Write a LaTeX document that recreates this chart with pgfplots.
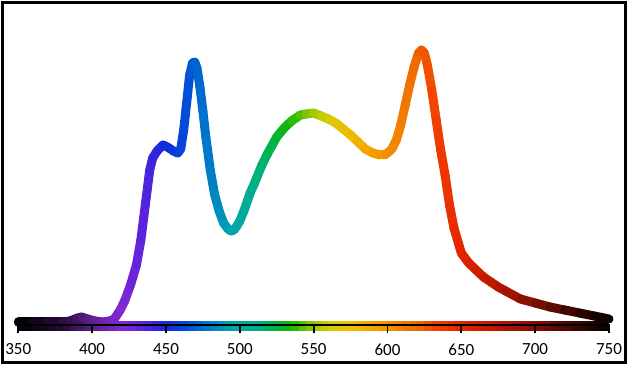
\documentclass[border=0pt]{standalone}
\usepackage{pgfplots}
\pgfplotsset{compat=1.18}
\usepackage{pgfplotstable}
\usepackage{fontspec}
\setmainfont{Carlito}

\pgfplotstableread{
nm val
350 3
360 3
370 3
380 3
385 4
390 7
393 8
397 6
402 4
407 3
412 4
415 6
419 15
422 24
426 40
430 60
433 85
436 120
439 155
441 167
444 174
448 180
451 178
455 174
458 172
460 176
462 195
464 222
466 250
468 262
469.5 263
471 257
473 238
475 214
477 188
480 155
483 130
486 114
489 102
492 96
494 94
496 95
498 99
500 104
503 115
507 132
510 142
515 160
519 172
525 188
530 197
535 204
541 210
545 211
550 212
555 209
560 206
565 202
570 196
575 190
580 183
585 176
590 172
595 170
598 170
600 172
603 176
606 185
609 200
612 220
615 240
618 258
621 272
623 275
625 272
627 260
630 235
633 205
636 175
639 150
642 120
645 97
648 82
650 72
655 62
660 55
665 48
670 43
675 38
680 34
690 26
700 22
710 18
720 15
730 12
740 9
750 6
}\spectrum

\begin{document}
\begin{tikzpicture}
\begin{axis}[
  scale only axis,
  width=630pt, height=366pt,
  xmin=337.61, xmax=764.23, ymin=-41, ymax=325,
  axis x line=middle, axis y line=none,
  x axis line style={draw=none},
  xtick={350,400,...,750},
  tick align=outside,
  major tick length=8pt,
  tick style={black, line width=1.8pt},
  xticklabel style={font=\fontsize{17}{17}\selectfont, yshift=-7pt},
  /pgf/number format/assume math mode=true,
  axis on top,
  clip=false,
  colormap={spec}{rgb255(0pt)=(0,0,0); rgb255(30pt)=(40,10,55); rgb255(50pt)=(90,30,135); rgb255(70pt)=(130,40,210); rgb255(85pt)=(90,35,220); rgb255(100pt)=(20,40,225); rgb255(115pt)=(0,80,215); rgb255(130pt)=(0,125,200); rgb255(145pt)=(0,165,175); rgb255(160pt)=(0,175,140); rgb255(175pt)=(0,180,60); rgb255(185pt)=(20,185,0); rgb255(200pt)=(150,200,0); rgb255(210pt)=(210,205,0); rgb255(225pt)=(240,190,0); rgb255(245pt)=(245,155,0); rgb255(270pt)=(240,105,0); rgb255(285pt)=(240,60,0); rgb255(300pt)=(230,35,0); rgb255(320pt)=(195,25,0); rgb255(350pt)=(130,15,0); rgb255(375pt)=(65,8,0); rgb255(400pt)=(5,0,0)},
  point meta min=350, point meta max=750,
]
\path (rel axis cs:0,0) rectangle (rel axis cs:1,1);
% colour bar
\addplot[mesh, point meta=x, line width=10pt, line cap=butt] coordinates {
(350,-1) (355,-1) (360,-1) (365,-1) (370,-1) (375,-1) (380,-1) (385,-1) (390,-1) (395,-1)
(400,-1) (405,-1) (410,-1) (415,-1) (420,-1) (425,-1) (430,-1) (435,-1) (440,-1) (445,-1)
(450,-1) (455,-1) (460,-1) (465,-1) (470,-1) (475,-1) (480,-1) (485,-1) (490,-1) (495,-1)
(500,-1) (505,-1) (510,-1) (515,-1) (520,-1) (525,-1) (530,-1) (535,-1) (540,-1) (545,-1)
(550,-1) (555,-1) (560,-1) (565,-1) (570,-1) (575,-1) (580,-1) (585,-1) (590,-1) (595,-1)
(600,-1) (605,-1) (610,-1) (615,-1) (620,-1) (625,-1) (630,-1) (635,-1) (640,-1) (645,-1)
(650,-1) (655,-1) (660,-1) (665,-1) (670,-1) (675,-1) (680,-1) (685,-1) (690,-1) (695,-1)
(700,-1) (705,-1) (710,-1) (715,-1) (720,-1) (725,-1) (730,-1) (735,-1) (740,-1) (745,-1)
(750,-1)};
% spectrum
\addplot[mesh, point meta=x, line width=9pt, line cap=round, line join=round] table[x=nm, y=val] {\spectrum};
% axis line
\draw[black, line width=2.5pt] (axis cs:349.5,0) -- (axis cs:750.5,0);
% frame
\draw[black, line width=3pt] (axis cs:339.30,-37.5) rectangle (axis cs:760.85,322.5);
\end{axis}
\end{tikzpicture}
\end{document}
